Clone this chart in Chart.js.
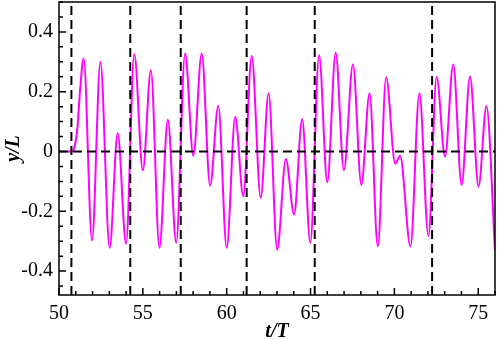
<!DOCTYPE html>
<html><head><meta charset="utf-8">
<script src="https://cdn.jsdelivr.net/npm/chart.js@4/dist/chart.umd.min.js"></script>
<style>html,body{margin:0;padding:0;background:#fff}#wrap{width:498px;height:339px}</style>
</head><body><div id="wrap"><canvas id="c"></canvas></div>
<script>
const tValues = [50.5,50.75,50.9,51.1,51.25,51.47,51.97,52.47,53.02,53.5,54.0,54.49,55.0,55.48,55.99,56.49,56.99,57.52,58.01,58.51,59.01,59.5,60.0,60.51,60.99,61.49,62.03,62.5,63.01,63.53,64.02,64.5,64.99,65.51,66.0,66.5,66.99,67.53,68.03,68.52,69.01,69.51,70.05,70.34,70.96,71.49,72.03,72.52,73.02,73.51,74.01,74.51,75.02,75.49,76.0];
const yValues = [0,0,0.01,0.08,0.2,0.311,-0.297,0.30,-0.322,0.061,-0.308,0.326,-0.063,0.272,-0.322,0.106,-0.305,0.328,-0.014,0.328,-0.114,0.152,-0.322,0.115,-0.15,0.319,-0.155,0.195,-0.328,-0.025,-0.211,0.108,-0.305,0.322,-0.103,0.33,-0.063,0.291,-0.111,0.195,-0.317,0.248,-0.041,-0.014,-0.317,0.195,-0.283,0.25,-0.017,0.291,-0.111,0.25,-0.117,0.152,-0.33];
const vLines = [50.74,54.25,57.26,61.19,65.25,72.25];
const hLines = [0];
const xRange = [50,76];
const yRange = [-0.48,0.5];
const xTickValues = [50,55,60,65,70,75];
const yTickValues = [-0.4,-0.2,0,0.2,0.4];
const xMinorStep = 1, yMinorStep = 0.05;
const FONT = "'Times New Roman', 'Liberation Serif', Times, serif";

const datasets = [{
  data: tValues.map((t,i)=>({x:t,y:yValues[i]})),
  borderColor:'#ff00ff', borderWidth:2, pointRadius:0, cubicInterpolationMode:'monotone', fill:false, order:1
}];
vLines.forEach(v=>datasets.push({data:[{x:v,y:yRange[0]},{x:v,y:yRange[1]}],borderColor:'#000',borderWidth:2,borderDash:[9,5],pointRadius:0,order:0}));
hLines.forEach(h=>datasets.push({data:[{x:xRange[0],y:h},{x:xRange[1],y:h}],borderColor:'#000',borderWidth:2,borderDash:[9,5],pointRadius:0,order:0}));

const frame = {
  id:'frame',
  afterDatasetsDraw(chart){
    const {ctx, chartArea:a, scales:{x,y}} = chart;
    ctx.save();
    ctx.strokeStyle='#000'; ctx.lineWidth=1.5;
    ctx.beginPath();
    for(let v=xRange[0]; v<=xRange[1]+1e-9; v+=xMinorStep){
      const px=x.getPixelForValue(v);
      const major = xTickValues.some(t=>Math.abs(t-v)<1e-6);
      ctx.moveTo(px,a.bottom); ctx.lineTo(px,a.bottom-(major?7:4));
    }
    for(let k=Math.ceil(yRange[0]/yMinorStep); k*yMinorStep<=yRange[1]+1e-9; k++){
      const v=k*yMinorStep; const py=y.getPixelForValue(v);
      const major = yTickValues.some(t=>Math.abs(t-v)<1e-6);
      ctx.moveTo(a.left,py); ctx.lineTo(a.left+(major?7:4),py);
    }
    ctx.stroke();
    ctx.strokeRect(a.left,a.top,a.right-a.left,a.bottom-a.top);
    ctx.restore();
  }
};

new Chart(document.getElementById('c'),{
  type:'line',
  data:{datasets},
  options:{
    responsive:true, maintainAspectRatio:false, animation:false,
    layout:{padding:{top:2,right:3,left:0,bottom:0}},
    plugins:{legend:{display:false},tooltip:{enabled:false}},
    scales:{
      x:{type:'linear',min:xRange[0],max:xRange[1],
        grid:{display:false,drawTicks:false},border:{display:false},
        afterBuildTicks:s=>{s.ticks=xTickValues.map(v=>({value:v}));},
        afterFit:s=>{s.height=44;s.paddingLeft=0;s.paddingRight=0;},
        ticks:{color:'#000',padding:7,maxRotation:0,font:{family:FONT,size:20}},
        title:{display:true,text:'t/T',color:'#000',padding:{top:3,bottom:-5},font:{family:FONT,size:20,weight:'bold',style:'italic'}}
      },
      y:{type:'linear',min:yRange[0],max:yRange[1],
        grid:{display:false,drawTicks:false},border:{display:false},
        afterBuildTicks:s=>{s.ticks=yTickValues.map(v=>({value:v}));},
        afterFit:s=>{s.width=59;s.paddingTop=0;s.paddingBottom=0;},
        ticks:{color:'#000',padding:6,font:{family:FONT,size:20},callback:v=>String(Math.round(v*10)/10)},
        title:{display:true,text:'y/L',color:'#000',padding:{top:2,bottom:0},font:{family:FONT,size:20,weight:'bold',style:'italic'}}
      }
    }
  },
  plugins:[frame]
});
</script></body></html>
